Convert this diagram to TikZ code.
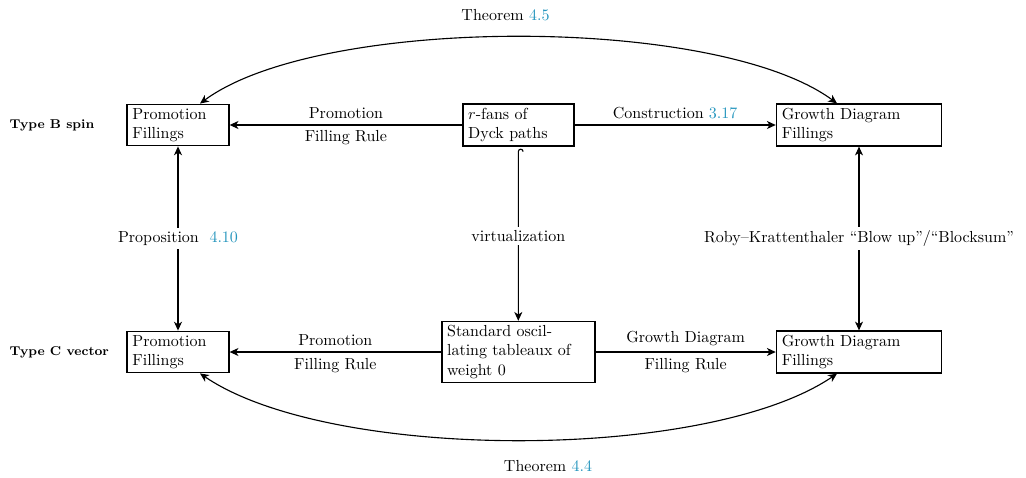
\documentclass[tikz,border=0pt]{standalone}
\usetikzlibrary{arrows.meta,calc}
\definecolor{refblue}{RGB}{38,150,190}
\newcommand{\refc}[1]{\textcolor{refblue}{#1}}
\begin{document}
\begin{tikzpicture}[x=0.625pt,y=-0.625pt,
 box/.style={draw, line width=0.9pt, align=left, inner xsep=3.33pt, inner ysep=2.5pt},
 conn/.style={line width=0.7pt, -{Stealth[length=5.5pt,width=5pt,inset=1.6pt]}},
 both/.style={line width=0.7pt, {Stealth[length=5.5pt,width=5pt,inset=1.6pt]}-{Stealth[length=5.5pt,width=5pt,inset=1.6pt]}},
 lab/.style={fill=white, inner sep=2pt},
 rowlab/.style={font=\footnotesize\bfseries, anchor=west}]
\useasboundingbox (0,0) rectangle (1026,477);
% boxes
\node[box, text width=57pt] (PB) at (178,125) {Promotion\\Fillings};
\node[box, text width=62.7pt] (RF) at (518.3,125) {$r$-fans of\\Dyck paths};
\node[box, text width=96.5pt] (GB) at (859,125) {Growth Diagram\\Fillings};
\node[box, text width=57pt] (PC) at (178,352) {Promotion\\Fillings};
\node[box, text width=89pt] (SO) at (518.3,352) {Standard oscil-\\lating tableaux of\\weight 0};
\node[box, text width=96.5pt] (GC) at (859,352) {Growth Diagram\\Fillings};
% row labels
\node[rowlab] (TB) at (4,125) {Type B spin};
\node[rowlab] (TC) at (4,352) {Type C vector};
% horizontal connectors
\draw[conn] (RF.west) -- node[above] {Promotion} node[below] {Filling Rule} (PB.east);
\draw[conn] (RF.east) -- node[above] {Construction \refc{3.17}} (GB.west);
\draw[conn] (SO.west) -- node[above] {Promotion} node[below] {Filling Rule} (PC.east);
\draw[conn] (SO.east) -- node[above] {Growth Diagram} node[below] {Filling Rule} (GC.west);
% vertical connectors
\draw[both] (PB.south) -- node[lab] {Proposition~ \refc{4.10}} (PC.north);
\coordinate (hk) at ($(RF.south)+(4.8,5)$);
\draw[conn] (hk) arc[start angle=0, end angle=180, radius=1.5pt] -- node[lab] {virtualization} (SO.north);
\draw[both] (GB.south) -- node[lab] {Roby--Krattenthaler ``Blow up''/``Blocksum''} (GC.north);
% curved connectors
\draw[both] ($(PB.north)+(22,0)$) .. controls (320,15) and (717,15) .. ($(GB.north)+(-22,0)$);
\draw[both] ($(PC.south)+(22,0)$) .. controls (330,462) and (707,462) .. ($(GC.south)+(-22,0)$);
\node (T45) at (505.5,15) {Theorem \refc{4.5}};
\node (T44) at (548,466) {Theorem \refc{4.4}};
\end{tikzpicture}
\end{document}
